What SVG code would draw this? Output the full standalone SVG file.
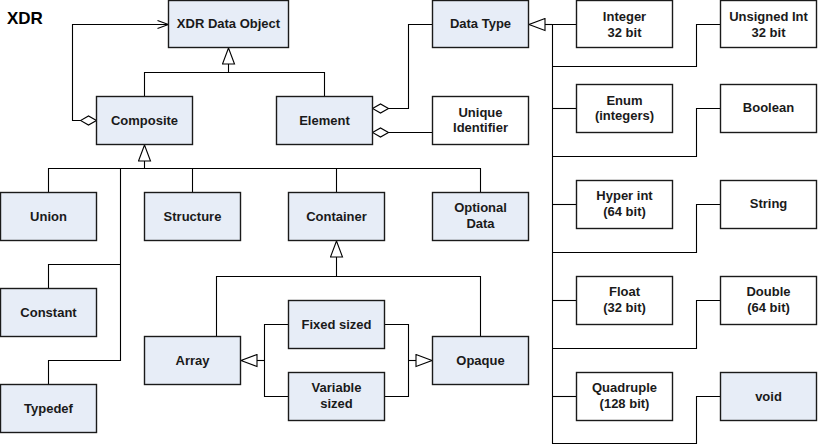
<svg xmlns="http://www.w3.org/2000/svg" width="821" height="445" viewBox="0 0 821 445">
<style>
.b{fill:#e7edf7;stroke:#1a1a1a;stroke-width:1.4}
.w{fill:#ffffff;stroke:#1a1a1a;stroke-width:1.4}
text{font-family:"Liberation Sans",Arial,sans-serif;font-weight:bold;font-size:13px;fill:#1a1a1a;text-anchor:middle}
.t{font-size:17px;text-anchor:start;fill:#000}
.c path{fill:none;stroke:#000;stroke-width:1.1}
</style>
<defs>
<marker id="tri" markerUnits="userSpaceOnUse" viewBox="-17 -7 18 14" refX="0" refY="0" markerWidth="18" markerHeight="14" orient="auto">
<path d="M0,0 L-16,-6 L-16,6 Z" fill="#fff" stroke="#000" stroke-width="1.1"/>
</marker>
<marker id="dia" markerUnits="userSpaceOnUse" viewBox="-1 -6 18 12" refX="0" refY="0" markerWidth="18" markerHeight="12" orient="auto">
<path d="M0,0 L8,-4.5 L16,0 L8,4.5 Z" fill="#fff" stroke="#000" stroke-width="1.1"/>
</marker>
<marker id="open" markerUnits="userSpaceOnUse" viewBox="-13 -6 14 12" refX="0" refY="0" markerWidth="14" markerHeight="12" orient="auto">
<path d="M-11,-4 L0,0 L-11,4" fill="none" stroke="#000" stroke-width="1.1"/>
</marker>
</defs>
<rect width="821" height="445" fill="#fff"/>
<text class="t" x="7" y="24">XDR</text>
<g class="c" id="connectors">
<path d="M96.5,120.5 L72.5,120.5 L72.5,24.5 L168.5,24.5" marker-start="url(#dia)" marker-end="url(#open)"/>
<path d="M144.5,96.5 L144.5,72.5 L324.5,72.5 L324.5,96.5"/>
<path d="M228.5,72.5 L228.5,48" marker-end="url(#tri)"/>
<path d="M372.5,108.5 L408.5,108.5 L408.5,24.5 L432.5,24.5" marker-start="url(#dia)"/>
<path d="M372.5,132.5 L432.5,132.5" marker-start="url(#dia)"/>
<path d="M48.5,192.5 L48.5,168.5 L480.5,168.5 L480.5,192.5"/>
<path d="M192.5,168.5 L192.5,192.5"/>
<path d="M336.5,168.5 L336.5,192.5"/>
<path d="M144.5,168.5 L144.5,145" marker-end="url(#tri)"/>
<path d="M120.5,168.5 L120.5,360.5 L48.5,360.5 L48.5,384.5"/>
<path d="M120.5,264.5 L48.5,264.5 L48.5,288.5"/>
<path d="M216.5,336.5 L216.5,276.5 L480.5,276.5 L480.5,336.5"/>
<path d="M336.5,276.5 L336.5,241" marker-end="url(#tri)"/>
<path d="M288.5,324.5 L264.5,324.5 L264.5,396.5 L288.5,396.5"/>
<path d="M264.5,360.5 L241,360.5" marker-end="url(#tri)"/>
<path d="M384.5,324.5 L408.5,324.5 L408.5,396.5 L384.5,396.5"/>
<path d="M408.5,360.5 L432,360.5" marker-end="url(#tri)"/>
<path d="M576.5,24.5 L552.5,24.5 L552.5,443.5 L696.5,443.5 L696.5,396.5 L720.5,396.5"/>
<path d="M552.5,24.5 L529,24.5" marker-end="url(#tri)"/>
<path d="M720.5,24.5 L696.5,24.5 L696.5,66.5 L552.5,66.5"/>
<path d="M552.5,108.5 L576.5,108.5"/>
<path d="M720.5,108.5 L696.5,108.5 L696.5,156.5 L552.5,156.5"/>
<path d="M552.5,204.5 L576.5,204.5"/>
<path d="M720.5,204.5 L696.5,204.5 L696.5,252.5 L552.5,252.5"/>
<path d="M552.5,300.5 L576.5,300.5"/>
<path d="M720.5,300.5 L696.5,300.5 L696.5,348.5 L552.5,348.5"/>
<path d="M552.5,396.5 L576.5,396.5"/>
</g>
<g id="xdr-data-object"><rect class="b" x="168.5" y="0.5" width="120" height="47"/><text x="228.5" y="28">XDR Data Object</text></g>
<g id="data-type"><rect class="b" x="432.5" y="0.5" width="96" height="47"/><text x="480.5" y="28">Data Type</text></g>
<g id="integer"><rect class="w" x="576.5" y="0.5" width="96" height="47"/><text x="624.5" y="20.5">Integer</text><text x="624.5" y="36.5">32 bit</text></g>
<g id="unsigned-int"><rect class="w" x="720.5" y="0.5" width="96" height="47"/><text x="768.5" y="20.5">Unsigned Int</text><text x="768.5" y="36.5">32 bit</text></g>
<g id="composite"><rect class="b" x="96.5" y="96.5" width="96" height="48"/><text x="144.5" y="124.5">Composite</text></g>
<g id="element"><rect class="b" x="276.5" y="96.5" width="96" height="48"/><text x="324.5" y="124.5">Element</text></g>
<g id="unique-identifier"><rect class="w" x="432.5" y="96.5" width="96" height="48"/><text x="480.5" y="116.5">Unique</text><text x="480.5" y="132">Identifier</text></g>
<g id="enum"><rect class="w" x="576.5" y="84.5" width="96" height="48"/><text x="624.5" y="104.5">Enum</text><text x="624.5" y="120">(integers)</text></g>
<g id="boolean"><rect class="w" x="720.5" y="84.5" width="96" height="48"/><text x="768.5" y="112">Boolean</text></g>
<g id="union"><rect class="b" x="0.5" y="192.5" width="96" height="48"/><text x="48.5" y="220.5">Union</text></g>
<g id="structure"><rect class="b" x="144.5" y="192.5" width="96" height="48"/><text x="192.5" y="220.5">Structure</text></g>
<g id="container"><rect class="b" x="288.5" y="192.5" width="96" height="48"/><text x="336.5" y="220.5">Container</text></g>
<g id="optional-data"><rect class="b" x="432.5" y="192.5" width="96" height="48"/><text x="480.5" y="212">Optional</text><text x="480.5" y="227.5">Data</text></g>
<g id="hyper-int"><rect class="w" x="576.5" y="180.5" width="96" height="48"/><text x="624.5" y="200">Hyper int</text><text x="624.5" y="215.5">(64 bit)</text></g>
<g id="string"><rect class="w" x="720.5" y="180.5" width="96" height="48"/><text x="768.5" y="208">String</text></g>
<g id="float"><rect class="w" x="576.5" y="276.5" width="96" height="48"/><text x="624.5" y="296">Float</text><text x="624.5" y="311.5">(32 bit)</text></g>
<g id="double"><rect class="w" x="720.5" y="276.5" width="96" height="48"/><text x="768.5" y="296">Double</text><text x="768.5" y="311.5">(64 bit)</text></g>
<g id="constant"><rect class="b" x="0.5" y="288.5" width="96" height="48"/><text x="48.5" y="316.5">Constant</text></g>
<g id="fixed-sized"><rect class="b" x="288.5" y="300.5" width="96" height="48"/><text x="336.5" y="328.5">Fixed sized</text></g>
<g id="array"><rect class="b" x="144.5" y="336.5" width="96" height="48"/><text x="192.5" y="364.5">Array</text></g>
<g id="opaque"><rect class="b" x="432.5" y="336.5" width="96" height="48"/><text x="480.5" y="364.5">Opaque</text></g>
<g id="variable-sized"><rect class="b" x="288.5" y="372.5" width="96" height="48"/><text x="336.5" y="392">Variable</text><text x="336.5" y="407.5">sized</text></g>
<g id="typedef"><rect class="b" x="0.5" y="384.5" width="96" height="48"/><text x="48.5" y="412.5">Typedef</text></g>
<g id="quadruple"><rect class="w" x="576.5" y="372.5" width="96" height="48"/><text x="624.5" y="392">Quadruple</text><text x="624.5" y="407.5">(128 bit)</text></g>
<g id="void"><rect class="b" x="720.5" y="372.5" width="96" height="48"/><text x="768.5" y="400.5">void</text></g>
</svg>
